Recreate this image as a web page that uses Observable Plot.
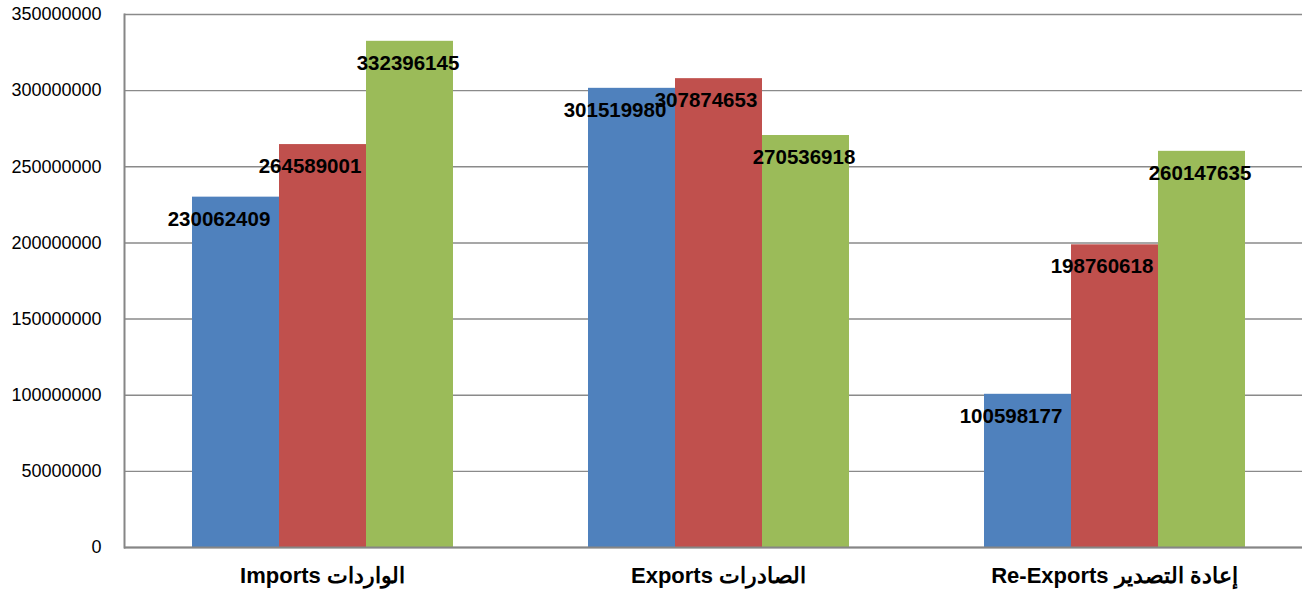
<!DOCTYPE html>
<html><head><meta charset="utf-8">
<script src="https://cdn.jsdelivr.net/npm/d3@7"></script>
<script src="https://cdn.jsdelivr.net/npm/@observablehq/plot@0.6"></script>
<style>
html,body{margin:0;padding:0;background:#fff;overflow:hidden;}
#chart svg{display:block;max-width:none !important;}
</style>
</head><body><div id="chart"></div>
<script>
const categories = ["Imports", "Exports", "Re-Exports"];
const categoryLabels = ["Imports الواردات", "Exports الصادرات", "Re-Exports إعادة التصدير"];
const seriesNames = ["Series 1", "Series 2", "Series 3"];
const series1 = [230062409, 301519980, 100598177];
const series2 = [264589001, 307874653, 198760618];
const series3 = [332396145, 270536918, 260147635];
const yTicks = [0, 50000000, 100000000, 150000000, 200000000, 250000000, 300000000, 350000000];
const colors = ["#4F81BD", "#C0504D", "#9BBB59"];

const seriesValues = [series1, series2, series3];
const rows = [];
categories.forEach((c, i) => {
  seriesNames.forEach((s, j) => rows.push({category: c, series: s, value: seriesValues[j][i]}));
});
const labelOf = new Map(categories.map((c, i) => [c, categoryLabels[i]]));
const dxBySeries = [-17, -13, -2];

const textMarks = seriesNames.map((s, j) =>
  Plot.text(rows.filter(d => d.series === s), {
    fx: "category", x: "series", y: "value",
    text: d => String(d.value),
    dx: dxBySeries[j], dy: 22,
    fontSize: 20.5, fontWeight: "bold", fill: "#000"
  })
);

const chart = Plot.plot({
  width: 1313,
  height: 591,
  marginTop: 14,
  marginBottom: 44,
  marginLeft: 123,
  marginRight: 0,
  style: {fontFamily: "'Liberation Sans', Arial, sans-serif", background: "#fff", color: "#000"},
  fx: {domain: categories, paddingInner: 0, paddingOuter: 0, label: null},
  x: {domain: seriesNames, paddingInner: 0, paddingOuter: 0.754, axis: null},
  y: {domain: [0, 350000000], axis: null},
  color: {domain: seriesNames, range: colors},
  marks: [
    Plot.gridY(yTicks, {stroke: "#8a8a8a", strokeOpacity: 1, strokeWidth: 1.4}),
    Plot.barY(rows, {fx: "category", x: "series", y: "value", fill: "series"}),
    Plot.ruleY([0], {stroke: "#868686", strokeWidth: 2}),
    Plot.frame({anchor: "left", facet: "super", stroke: "#868686", strokeWidth: 2}),
    Plot.axisY(yTicks, {anchor: "left", tickSize: 0, tickPadding: 23, fontSize: 18,
      tickFormat: d => String(d), label: null}),
    Plot.axisFx({anchor: "bottom", tickSize: 0, tickPadding: 20, fontSize: 22, fontWeight: "bold",
      tickFormat: d => labelOf.get(d), label: null}),
    ...textMarks
  ]
});
document.getElementById("chart").appendChild(chart);
</script>
</body></html>
